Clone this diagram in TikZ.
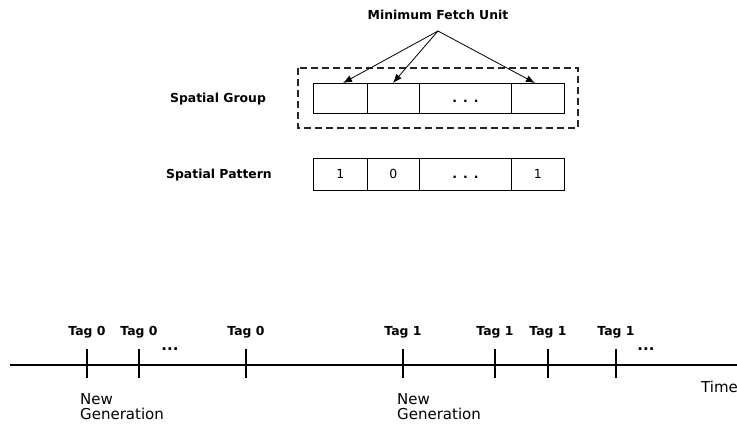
\documentclass[tikz,border=0pt]{standalone}
\usepackage{fontspec}
\setmainfont{DejaVu Sans}
\usetikzlibrary{arrows.meta}
\begin{document}
\begin{tikzpicture}[x=1pt,y=-1pt,
  lbl/.style={font=\bfseries\fontsize{12.4}{14}\selectfont, inner sep=0pt},
  plain/.style={font=\fontsize{15}{16}\selectfont, inner sep=0pt, align=left},
  cell/.style={draw, line width=0.9pt, minimum height=30pt, inner sep=0pt,
    text height=9pt, text depth=0pt,
    anchor=north west, font=\fontsize{12.5}{14}\selectfont},
  celldots/.style={font=\bfseries\fontsize{12.5}{14}\selectfont},
  grpbox/.style={draw=black!85, line width=1.8pt, dash pattern=on 7pt off 4pt},
  ptr/.style={line width=0.8pt, -{Latex[length=9pt,width=7pt]}},
  axis/.style={line width=1.4pt},
  tick/.style={line width=1.4pt},
  dots/.style={font=\bfseries\fontsize{15}{16}\selectfont, inner sep=0pt}
]
\useasboundingbox (0,0) rectangle (737,427);

% spatial group cells
\node[cell, minimum width=54pt] (g1) at (313,83) {};
\node[cell, minimum width=52pt] (g2) at (367,83) {};
\node[cell, celldots, minimum width=92pt] (g3) at (419,83) {.\hspace{6pt}.\hspace{6pt}.};
\node[cell, minimum width=53pt] (g4) at (511,83) {};
\draw[grpbox] (298,68) rectangle (578,128);
\node[lbl] (sg) at (218,99) {Spatial Group};

% minimum fetch unit pointers
\node[lbl] (mfu) at (438,15) {Minimum Fetch Unit};
\coordinate (src) at (438,31);
\draw[ptr] (src) -- (343,83);
\draw[ptr] (src) -- (393,83);
\draw[ptr] (src) -- (535,83);

% spatial pattern cells
\node[cell, minimum width=54pt, minimum height=32pt] (p1) at (313,158) {1};
\node[cell, minimum width=52pt, minimum height=32pt] (p2) at (367,158) {0};
\node[cell, celldots, minimum width=92pt, minimum height=32pt] (p3) at (419,158) {.\hspace{6pt}.\hspace{6pt}.};
\node[cell, minimum width=53pt, minimum height=32pt] (p4) at (511,158) {1};
\node[lbl] (sp) at (219,175) {Spatial Pattern};

% time line
\coordinate (t0) at (10,365);
\coordinate (t1) at (737,365);
\draw[axis] (t0) -- (t1);
\foreach \x/\t/\n in {87/0/a,139/0/b,246/0/c,403/1/d,495/1/e,548/1/f,616/1/g}{
  \node[lbl] (tag\n) at (\x,332) {Tag \t};
  \coordinate (top\n) at (\x,349);
  \coordinate (bot\n) at (\x,378);
  \draw[tick] (top\n) -- (bot\n);
}
\node[dots] (d1) at (170,349) {...};
\node[dots] (d2) at (646,349) {...};

\node[plain, anchor=north west] (ng1) at (80,393) {New\\[-1pt]Generation};
\node[plain, anchor=north west] (ng2) at (397,393) {New\\[-1pt]Generation};
\node[plain, anchor=west] (time) at (701,387) {Time};
\end{tikzpicture}
\end{document}
